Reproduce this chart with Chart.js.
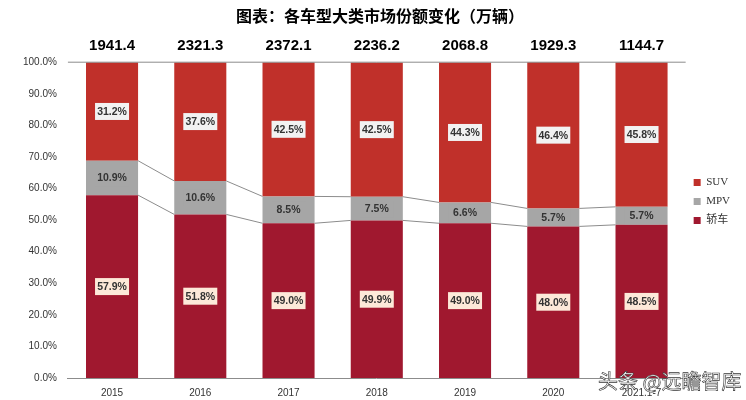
<!DOCTYPE html>
<html><head><meta charset="utf-8">
<script src="https://cdn.jsdelivr.net/npm/chart.js@4/dist/chart.umd.min.js"></script>
<style>body{margin:0;background:#fff}#w{position:relative;width:746px;height:400px}
#wm{position:absolute;left:598px;top:366px;font:20px "Noto Sans CJK SC";color:#fff;-webkit-text-stroke:0.6px #333;letter-spacing:0px}</style>
</head><body><div id="w"><canvas id="c" width="746" height="400"></canvas><div id="wm">头条 @远瞻智库</div></div>
<script>
const categories=['2015','2016','2017','2018','2019','2020','2021.1-7'];
const totals=['1941.4','2321.3','2372.1','2236.2','2068.8','1929.3','1144.7'];
const sedan=[57.9,51.8,49.0,49.9,49.0,48.0,48.5];
const mpv=[10.9,10.6,8.5,7.5,6.6,5.7,5.7];
const suv=[31.2,37.6,42.5,42.5,44.3,46.4,45.8];
const labelBg=['#fde9d9','#a6a6a6','#f2f2f2'];
const plug={id:'extra',afterDatasetsDraw(ch){
  const c=ch.ctx,x=ch.scales.x,y=ch.scales.y;
  c.save();c.strokeStyle='#8c8c8c';c.lineWidth=1;
  const m0=ch.getDatasetMeta(0).data,m1=ch.getDatasetMeta(1).data;
  [m0,m1].forEach(m=>{
    for(let i=0;i<m.length-1;i++){
      const a=m[i],b=m[i+1];
      c.beginPath();c.moveTo(a.x+a.width/2,a.y);c.lineTo(b.x-b.width/2,b.y);c.stroke();
    }});
  c.beginPath();c.moveTo(x.left,y.getPixelForValue(100));c.lineTo(x.right,y.getPixelForValue(100));c.stroke();
  c.font='bold 10.5px Arial, "Liberation Sans"';c.textAlign='center';c.textBaseline='middle';
  ch.data.datasets.forEach((ds,di)=>{
    ch.getDatasetMeta(di).data.forEach((el,i)=>{
      const t=ds.data[i].toFixed(1)+'%';const cy=(el.y+el.base)/2;
      c.fillStyle=labelBg[di];c.fillRect(el.x-17,cy-8.5,34,17);
      c.fillStyle='#333';c.fillText(t,el.x,cy+0.5);
    });});
  c.font='bold 15px "Liberation Sans", Arial';c.fillStyle='#000';
  m0.forEach((el,i)=>c.fillText(totals[i],el.x,46));
  c.restore();
}};
new Chart(document.getElementById('c'),{type:'bar',
 data:{labels:categories,datasets:[
  {label:'轿车',data:sedan,backgroundColor:'#a0182f'},
  {label:'MPV',data:mpv,backgroundColor:'#a6a6a6'},
  {label:'SUV',data:suv,backgroundColor:'#c0302a'}]},
 options:{responsive:false,animation:false,
  layout:{padding:{top:3,right:6,left:20,bottom:0}},
  datasets:{bar:{barPercentage:0.59,categoryPercentage:1}},
  scales:{x:{stacked:true,grid:{display:false},border:{color:'#8c8c8c'},ticks:{padding:1,color:'#333',font:{size:10,family:'Arial, "Liberation Sans"'}}},
   y:{stacked:true,min:0,max:100,grid:{display:false},border:{display:false},
    ticks:{stepSize:10,color:'#333',font:{size:10,family:'Arial, "Liberation Sans"'},callback:v=>v.toFixed(1)+'%'}}},
  plugins:{tooltip:{enabled:false},
   title:{display:true,text:'图表：各车型大类市场份额变化（万辆）',font:{size:16,weight:'bold',family:'"Noto Sans CJK SC"'},color:'#000',padding:{top:3,bottom:37}},
   legend:{position:'right',reverse:true,labels:{boxWidth:7,boxHeight:7,padding:8,color:'#333',font:{size:11,family:'"Liberation Serif","Noto Sans CJK SC"'}}}}},
 plugins:[plug]});
</script></body></html>
